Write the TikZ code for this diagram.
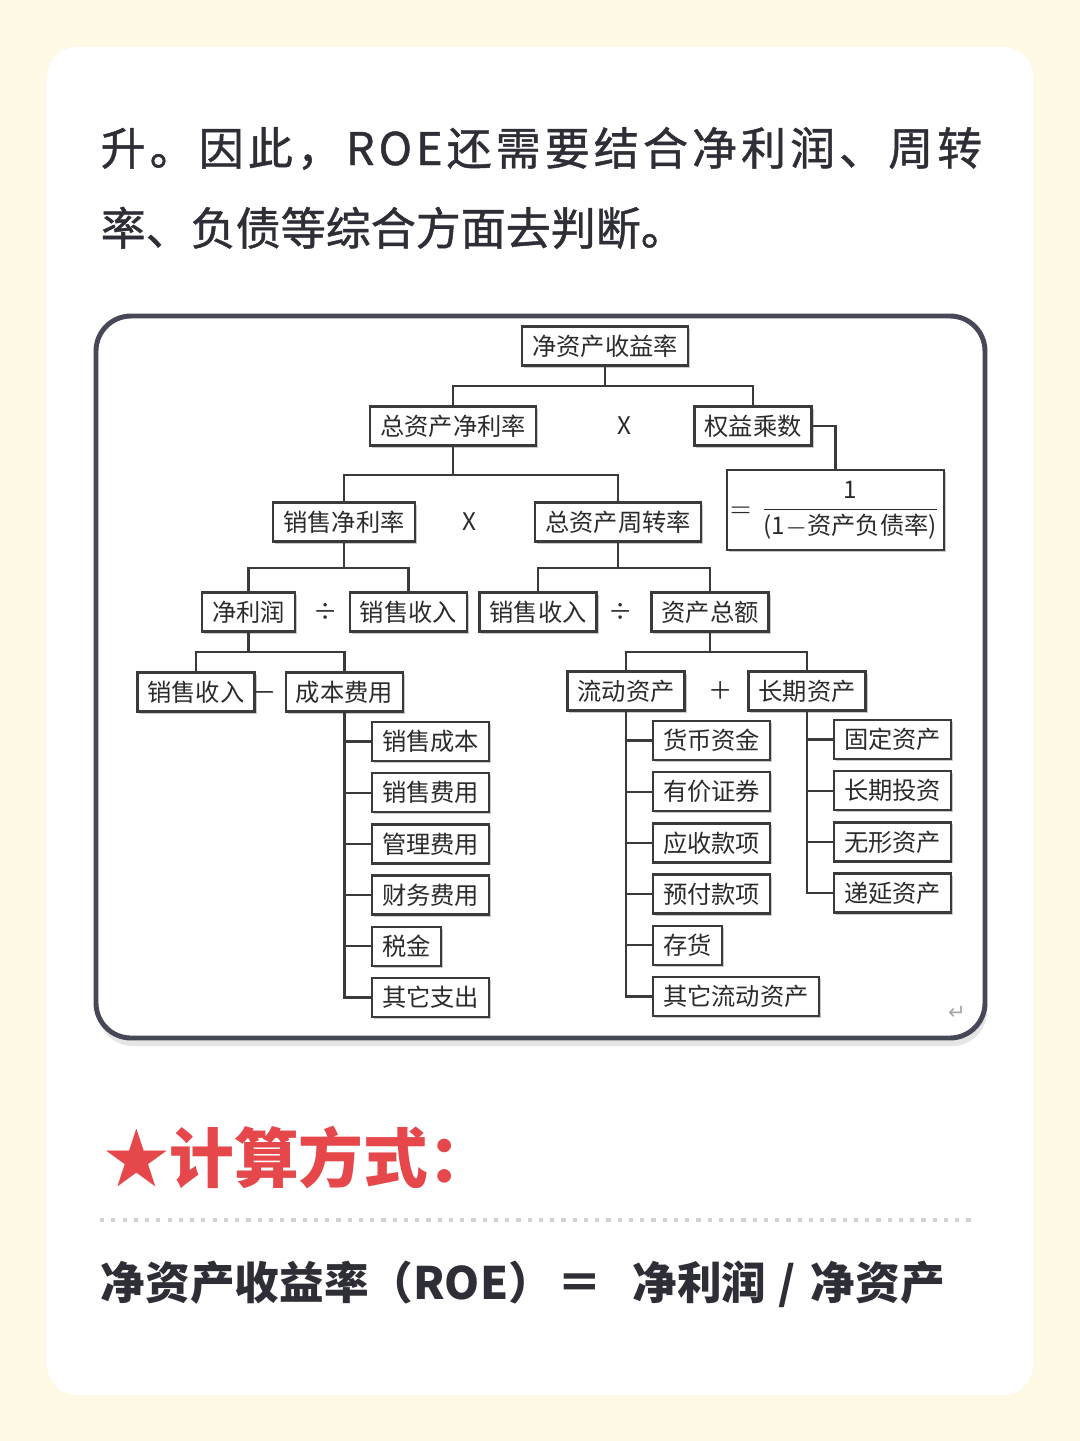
\documentclass[tikz,border=0pt]{standalone}
\usepackage{amsmath}
\usepackage{fontspec}
\usepackage{tikz}
\usetikzlibrary{shadows}
\setmainfont{Noto Sans CJK SC}
\newfontfamily\cjkbody[FakeBold=1]{Noto Sans CJK SC}
\newfontfamily\cjkwide[FakeBold=1,LetterSpace=9]{Noto Sans CJK SC}
\newfontfamily\symfont{DejaVu Sans}
\definecolor{bgcream}{HTML}{FDF9E4}
\definecolor{frameline}{HTML}{464757}
\definecolor{boxline}{HTML}{3A3A3A}
\definecolor{boxtext}{HTML}{2B2B2B}
\definecolor{bodytext}{HTML}{2E2E36}
\definecolor{headred}{HTML}{E5474B}

\begin{document}
\begin{tikzpicture}[x=0.01cm,y=-0.01cm,
  box/.style={draw=boxline, fill=white, line width=0.65pt, inner xsep=0.1cm, inner ysep=0pt,
    minimum height=0.39cm, text=boxtext, font=\fontsize{6.9pt}{8pt}\selectfont,
    drop shadow={shadow xshift=0.02cm, shadow yshift=-0.02cm, fill=gray!70, opacity=0.6}},
  op/.style={text=boxtext, font=\fontsize{6.9pt}{8pt}\selectfont, inner sep=0pt},
  tree/.style={draw=boxline, line width=0.6pt}]
 \useasboundingbox (0,0) rectangle (1080,1441);
 \fill[bgcream] (0,0) rectangle (1080,1441);
 \fill[white, rounded corners=0.3cm] (47,47) rectangle (1033,1395);

 % text above
 \node[anchor=base west, inner sep=0pt, text=bodytext, font=\fontsize{12.8pt}{15pt}\cjkwide] (line1) at (100,165) {升。因此，ROE还需要结合净利润、周转};
 \node[anchor=base west, inner sep=0pt, text=bodytext, font=\fontsize{12.8pt}{15pt}\cjkbody] (line2) at (100,245) {率、负债等综合方面去判断。};

 % frame
 \fill[gray!40, opacity=0.5, rounded corners=0.35cm] (98,322) rectangle (987,1046);
 \draw[frameline, fill=white, line width=1.4pt, rounded corners=0.35cm] (96,316) rectangle (985,1038);

 % top
 \node[box] (roe) at (605,346) {净资产收益率};
 \node[box] (roa) at (453,426) {总资产净利率};
 \node[op] (x1) at (624,426) {X};
 \node[box] (em) at (753,426) {权益乘数};
 \node[box, inner xsep=0.03cm, minimum width=2.09cm, minimum height=0.8cm] (fml) at (835.5,510) {$=\dfrac{\mbox{1}}{\mbox{(1$-$资产负债率)}}$};
 \draw[tree] (roe.south) -- ++(0,19) -| (roa.north);
 \draw[tree] (roe.south) -- ++(0,19) -| (em.north);
 \draw[tree] (em.east) -| (fml.north);

 % second level
 \node[box] (npm) at (344,522) {销售净利率};
 \node[op] (x2) at (469,522) {X};
 \node[box] (tat) at (618,522) {总资产周转率};
 \draw[tree] (roa.south) -- ++(0,28) -| (npm.north);
 \draw[tree] (roa.south) -- ++(0,28) -| (tat.north);

 % third level
 \node[box] (np) at (248.5,612) {净利润};
 \node[op] (d1) at (326,612) {÷};
 \node[box] (rev1) at (408.5,612) {销售收入};
 \node[box] (rev2) at (538,612) {销售收入};
 \node[op] (d2) at (621,612) {÷};
 \node[box] (ta) at (710,612) {资产总额};
 \draw[tree] (npm.south) -- ++(0,25) -| (np.north);
 \draw[tree] (npm.south) -- ++(0,25) -| (rev1.north);
 \draw[tree] (tat.south) -- ++(0,25) -| (rev2.north);
 \draw[tree] (tat.south) -- ++(0,25) -| (ta.north);

 % fourth level
 \node[box] (rev3) at (196,692) {销售收入};
 \node[op] (m1) at (265,697) {－};
 \node[box] (cost) at (344.5,692) {成本费用};
 \node[box] (ca) at (626,691) {流动资产};
 \node[op] (p1) at (721,691) {＋};
 \node[box] (la) at (807,691) {长期资产};
 \draw[tree] (np.south) -- ++(0,19) -| (rev3.north);
 \draw[tree] (np.south) -- ++(0,19) -| (cost.north);
 \draw[tree] (ta.south) -- ++(0,19) -| (ca.north);
 \draw[tree] (ta.south) -- ++(0,19) -| (la.north);

 % cost items
 \foreach \t [count=\i] in {销售成本,销售费用,管理费用,财务费用,税金,其它支出} {
   \node[box, anchor=west] (c\i) at (371,{741.5+51.2*(\i-1)}) {\t};
   \draw[tree] (cost.south) |- (c\i.west);
 }
 % current assets
 \foreach \t [count=\i] in {货币资金,有价证券,应收款项,预付款项,存货,其它流动资产} {
   \node[box, anchor=west] (a\i) at (652,{740.5+51.2*(\i-1)}) {\t};
   \draw[tree] (ca.south) |- (a\i.west);
 }
 % long term assets
 \foreach \t [count=\i] in {固定资产,长期投资,无形资产,递延资产} {
   \node[box, anchor=west] (b\i) at (833,{739.5+51.2*(\i-1)}) {\t};
   \draw[tree] (la.south) |- (b\i.west);
 }
 \node[text=gray!70, font=\fontsize{6pt}{7pt}\symfont] (ret) at (957,1013) {↵};

 % below
 \node[anchor=base west, inner sep=0pt, text=headred, font=\fontsize{18.4pt}{22pt}\selectfont\bfseries] (head) at (104,1182) {★计算方式：};
 \draw[gray!35, dotted, line width=1.2pt] (100,1220) -- (975,1220);
 \node[anchor=base west, inner sep=0pt, text=bodytext, font=\fontsize{12.7pt}{15pt}\selectfont\bfseries] (roeform) at (100,1299) {净资产收益率（ROE）\hspace{0.05cm}＝\hspace{0.3cm}净利润\hspace{0.12cm}/\hspace{0.15cm}净资产};
\end{tikzpicture}
\end{document}
